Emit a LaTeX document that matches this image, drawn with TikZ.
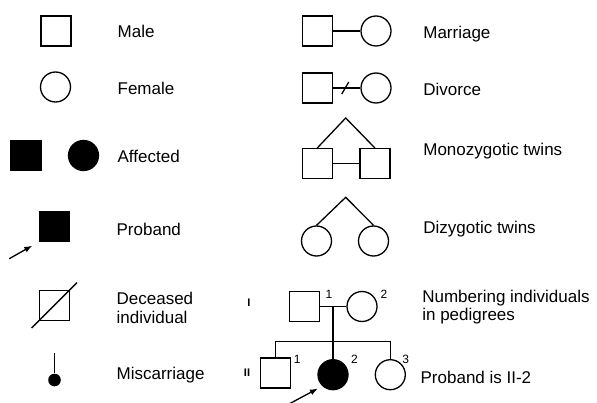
\documentclass[tikz,border=0pt]{standalone}
\usepackage{fontspec}
\setmainfont{Liberation Sans}
\usetikzlibrary{arrows.meta}
\tikzset{
  male/.style={draw, rectangle, minimum size=30pt, inner sep=0pt},
  female/.style={draw, circle, minimum size=30pt, inner sep=0pt},
  lbl/.style={anchor=base west, inner sep=0pt, font=\fontsize{17}{20}\selectfont},
  num/.style={anchor=base west, inner sep=0pt, font=\fontsize{12}{14}\selectfont},
  gen/.style={anchor=base, inner sep=0pt, font=\bfseries\fontsize{11}{13}\selectfont},
  arr/.style={-{Latex[length=8pt,width=6pt]}},
}
\begin{document}
\begin{tikzpicture}[x=1pt, y=-1pt, line width=1.3pt]
\useasboundingbox (0,0) rectangle (597,403);

% left column
\node[male] (male) at (56,31) {};
\node[female] (female) at (55.5,87) {};
\node[male, fill] (affm) at (26,155.5) {};
\node[female, fill] (afff) at (83.5,155.5) {};
\node[male, fill] (prob) at (54.5,226.3) {};
\node[male] (dec) at (54.3,305.3) {};
\node[circle, fill, minimum size=12.6pt, inner sep=0pt] (misc) at (54.5,380) {};
\coordinate (misctop) at (54.5,353.3);
\coordinate (probarr) at (9.3,258.7);

\draw[arr, shorten >=7.5pt] (probarr) -- (prob.south west);
\draw ([shift={(-7pt,-7pt)}]dec.south west) -- ([shift={(7pt,7pt)}]dec.north east);
\draw (misctop) -- (misc.north);

\node[lbl] (tmale) at (117,37.5) {Male};
\node[lbl] (tfemale) at (117,94.3) {Female};
\node[lbl] (taff) at (117,162.3) {Affected};
\node[lbl] (tprob) at (116,236) {Proband};
\node[lbl] (tdec) at (116,304.3) {Deceased};
\node[lbl] (tdec2) at (116,323.3) {individual};
\node[lbl] (tmisc) at (116,379.3) {Miscarriage};

% right column
\node[male] (mar1) at (317.5,31) {};
\node[female] (mar2) at (376,31) {};
\draw (mar1) -- (mar2);

\node[male] (div1) at (317.5,88) {};
\node[female] (div2) at (376,88) {};
\draw (div1) -- coordinate (divmid) (div2);
\draw ([shift={(-5pt,-6pt)}]divmid) -- ([shift={(2pt,6pt)}]divmid);

\node[male] (mz1) at (317.2,163.7) {};
\node[male] (mz2) at (375,163.7) {};
\coordinate (mzapex) at (345.7,118);
\draw (mz1) -- (mz2);
\draw (mz1.north) -- (mzapex) -- (mz2.north);

\node[female] (dz1) at (316.5,241) {};
\node[female] (dz2) at (373.5,241) {};
\coordinate (dzapex) at (345.7,197.3);
\draw (dz1.north) -- (dzapex) -- (dz2.north);

\node[lbl] (tmar) at (422.7,38.3) {Marriage};
\node[lbl] (tdiv) at (422.7,95.7) {Divorce};
\node[lbl] (tmz) at (422.7,155.7) {Monozygotic twins};
\node[lbl] (tdz) at (422.7,233.3) {Dizygotic twins};

% small pedigree
\node[male] (i1) at (304.2,306.5) {};
\node[female] (i2) at (362,306.5) {};
\node[male] (ii1) at (275.7,373) {};
\node[female, fill] (ii2) at (333,374.7) {};
\node[female] (ii3) at (390.3,374.7) {};
\coordinate (sib) at (0,341.5);
\coordinate (ii2arr) at (289,404);

\draw (i1) -- coordinate (imid) (i2);
\draw (imid) -- (imid |- ii2.north);
\draw (ii1.north) -- (ii1.north |- sib) -- (ii3.north |- sib) -- (ii3.north);
\draw[arr, shorten >=5pt] (ii2arr) -- (ii2.227);

\node[gen] (gi) at (249,306.5) {I};
\node[gen] (gii) at (247,376) {II};
\node[num] (n11) at (325,299) {1};
\node[num] (n12) at (380,299) {2};
\node[num] (n21) at (293.3,363.3) {1};
\node[num] (n22) at (350.5,363.3) {2};
\node[num] (n23) at (401.7,363.3) {3};

\node[lbl] (tnum) at (421.7,302.3) {Numbering individuals};
\node[lbl] (tnum2) at (421.7,320) {in pedigrees};
\node[lbl] (tpii) at (420,383.3) {Proband is II-2};
\end{tikzpicture}
\end{document}
